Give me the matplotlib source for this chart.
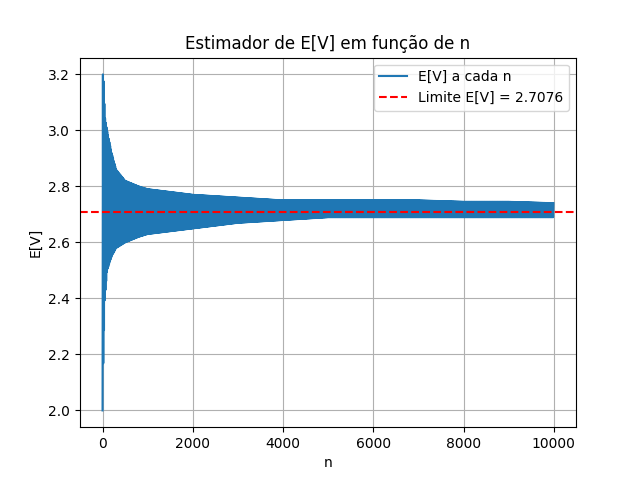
import numpy as np
import matplotlib
matplotlib.use("Agg")
import matplotlib.pyplot as plt

# Envelope of the estimator
env_n = [1, 20, 50, 100, 200, 300, 500, 800, 1000, 1500, 2000, 3000, 4000, 5000, 6000, 7000, 8000, 9000, 10000]
env_upper = [3.2, 3.2, 3.05, 3.0, 2.92, 2.86, 2.82, 2.80, 2.79, 2.78, 2.77, 2.76, 2.75, 2.75, 2.75, 2.75, 2.745, 2.745, 2.74]
env_lower = [2.0, 2.2, 2.4, 2.5, 2.55, 2.58, 2.60, 2.62, 2.63, 2.64, 2.65, 2.67, 2.68, 2.69, 2.69, 2.69, 2.69, 2.69, 2.69]
limit = 2.7076

n = np.arange(1, 10001, 8)
up = np.interp(n, env_n, env_upper)
lo = np.interp(n, env_n, env_lower)
y = np.where(np.arange(len(n)) % 2 == 0, lo, up)

fig, ax = plt.subplots(figsize=(6.4, 4.8), dpi=100)
ax.plot(n, y, label="E[V] a cada n")
ax.axhline(limit, color="red", linestyle="--", label=f"Limite E[V] = {limit}")
ax.set_title("Estimador de E[V] em função de n")
ax.set_xlabel("n")
ax.set_ylabel("E[V]")
ax.grid(True)
ax.legend(loc="upper right")
fig.savefig("out.png")
